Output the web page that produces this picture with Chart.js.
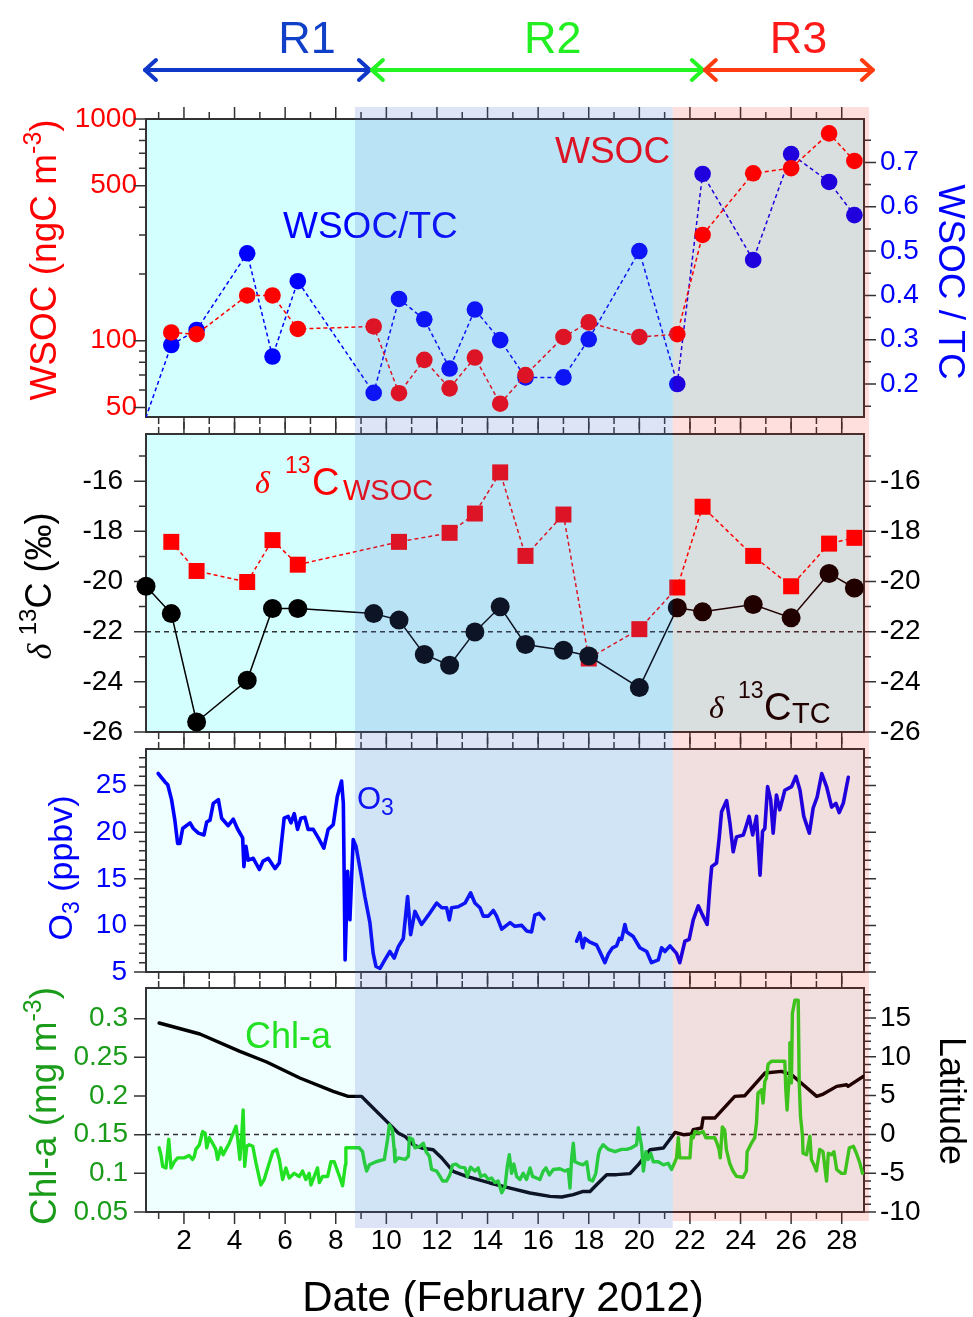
<!DOCTYPE html>
<html><head><meta charset="utf-8">
<script src="https://cdn.jsdelivr.net/npm/chart.js@4"></script>
<style>html,body{margin:0;padding:0;background:#fff;}#wrap{position:relative;width:973px;height:1317px;overflow:hidden;background:#fff;}canvas{position:absolute;left:0;top:0;}</style>
</head><body><div id="wrap"></div>
<script>
const FONT = '"Liberation Sans", Arial, sans-serif';
const SERIF = '"Liberation Serif", "DejaVu Serif", serif';

// ---------- shared x axis (days of February 2012) ----------
const X_MIN = 0.5, X_MAX = 28.88;
const X_LABEL_TICKS = [2,4,6,8,10,12,14,16,18,20,22,24,26,28];
const X_MINOR_TICKS = [1,3,5,7,9,11,13,15,17,19,21,23,25,27];
const REGION_BOUNDS = [8.76, 21.32, 29.08];
const REGION_NAMES = ['R1','R2','R3'];
const REGION_LABEL_X = [6.86, 16.58, 26.29];
const ARROW_SPANS = [[0.46, 9.35], [9.43, 22.51], [22.59, 29.23]];

// ---------- panel 1 : WSOC and WSOC/TC ----------
const WSOC_DAY = [1.5,2.5,4.5,5.5,6.5,9.5,10.5,11.5,12.5,13.5,14.5,15.5,17,18,20,21.5,22.5,24.5,26,27.5,28.5];
const WSOC = [109,107,160,160,113,116,58,82,61,84,52,70,104,121,104,107,300,569,600,861,647];
const WSOCTC_DAY = [0.4,1.5,2.5,4.5,5.5,6.5,9.5,10.5,11.5,12.5,13.5,14.5,15.5,17,18,20,21.5,22.5,24.5,26,27.5,28.5];
const WSOCTC = [0.109,0.288,0.322,0.495,0.262,0.432,0.180,0.392,0.346,0.235,0.368,0.299,0.215,0.215,0.301,0.500,0.200,0.674,0.480,0.719,0.656,0.581];
const WSOC_MIN = 45.3, WSOC_MAX = 1000, RATIO_MIN = 0.1256, RATIO_MAX = 0.798;
const P1_LEFT_MAJOR = [50,100,500,1000];
const P1_LEFT_MINOR = [60,70,80,90,200,300,400,600,700,800,900];
const P1_RIGHT_MAJOR = [0.2,0.3,0.4,0.5,0.6,0.7];
const P1_RIGHT_MINOR = [0.15,0.25,0.35,0.45,0.55,0.65,0.75];

// ---------- panel 2 : delta 13C ----------
const D13C_TC_DAY = [0.5,1.5,2.5,4.5,5.5,6.5,9.5,10.5,11.5,12.5,13.5,14.5,15.5,17,18,20,21.5,22.5,24.5,26,27.5,28.5];
const D13C_TC = [-20.19,-21.28,-25.60,-23.94,-21.08,-21.08,-21.28,-21.54,-22.91,-23.34,-22.01,-21.01,-22.51,-22.74,-22.97,-24.23,-21.05,-21.21,-20.92,-21.45,-19.68,-20.26];
const D13C_WSOC_DAY = [1.5,2.5,4.5,5.5,6.5,10.5,12.5,13.5,14.5,15.5,17,18,20,21.5,22.5,24.5,26,27.5,28.5];
const D13C_WSOC = [-18.42,-19.58,-20.02,-18.35,-19.33,-18.42,-18.06,-17.29,-15.65,-18.98,-17.33,-23.07,-21.90,-20.24,-17.02,-18.98,-20.19,-18.49,-18.26];
const D13C_REF = -22;
const D13C_MIN = -26, D13C_MAX = -14.12;
const P2_MAJOR = [-26,-24,-22,-20,-18,-16];
const P2_MINOR = [-25,-23,-21,-19,-17,-15];

// ---------- panel 3 : O3 ----------
const O3_T = [0.98,1.25,1.36,1.51,1.64,1.75,1.84,1.95,2.24,2.37,2.57,2.79,2.90,3.03,3.16,3.36,3.49,3.75,3.95,4.11,4.32,4.37,4.45,4.54,4.74,4.98,5.13,5.33,5.60,5.77,5.96,6.12,6.23,6.36,6.49,6.62,6.78,6.91,7.11,7.31,7.53,7.70,7.90,8.06,8.17,8.23,8.30,8.37,8.47,8.56,8.69,8.80,9.02,9.15,9.35,9.48,9.59,9.75,9.94,10.14,10.31,10.47,10.67,10.84,10.96,11.13,11.39,11.66,11.99,12.19,12.38,12.49,12.58,12.84,13.11,13.33,13.50,13.70,13.83,14.03,14.23,14.36,14.56,14.89,15.08,15.35,15.55,15.74,15.87,16.04,16.23,16.9,17.52,17.65,17.76,17.85,18.05,18.31,18.47,18.64,18.77,18.94,19.10,19.21,19.30,19.43,19.50,19.76,20.02,20.29,20.48,20.75,20.88,21.01,21.21,21.47,21.60,21.80,21.97,22.13,22.33,22.50,22.68,22.79,22.86,23.05,23.16,23.25,23.45,23.58,23.71,23.84,24.11,24.24,24.34,24.48,24.63,24.77,24.87,24.96,25.07,25.19,25.29,25.42,25.55,25.75,26.02,26.19,26.35,26.50,26.72,26.87,27.03,27.21,27.40,27.60,27.77,27.90,28.06,28.26];
const O3_V = [26.3,25.4,25.1,23.5,21.3,18.8,18.8,20.4,21.0,20.4,19.9,19.7,21.1,21.3,23.1,23.5,21.5,20.7,21.4,20.4,19.4,16.3,18.5,17.0,17.2,16.0,16.9,17.2,16.1,16.7,21.5,21.7,21.0,22.0,20.3,21.5,21.6,20.3,20.3,19.4,18.3,20.3,20.8,23.8,24.9,25.5,23.1,6.3,15.8,10.6,19.2,18.5,15.2,13.1,10.3,7.0,5.6,5.4,6.3,7.2,6.5,7.7,8.6,13.1,9.0,11.5,10.1,11.1,12.4,11.9,11.9,10.6,11.9,12.0,12.4,13.5,12.4,11.9,11.0,11.0,11.6,11.0,9.6,10.3,9.9,10.0,9.4,9.3,11.1,11.3,10.7,null,8.3,9.2,7.6,8.6,8.2,7.9,7.0,6.0,6.9,7.6,7.8,8.6,8.5,10.1,9.3,8.8,7.6,7.2,6.0,6.3,7.6,7.2,7.8,7.0,6.0,8.3,8.5,10.6,12.1,11.1,10.1,14.2,16.3,16.7,19.5,22.2,23.4,21.0,17.9,19.5,19.7,20.8,21.7,19.7,21.7,15.4,20.1,20.4,24.9,23.5,19.9,24.0,22.4,24.5,24.9,26.0,24.5,21.7,19.9,22.6,23.8,26.3,24.9,22.7,23.1,22.1,23.1,25.9];
const O3_MIN = 5, O3_MAX = 28.93;
const P3_MAJOR = [5,10,15,20,25];
const P3_MINOR = [6,7,8,9,11,12,13,14,16,17,18,19,21,22,23,24,26,27,28];

// ---------- panel 4 : Chl-a and latitude ----------
const CHL_T = [1.02,1.09,1.16,1.29,1.40,1.49,1.62,1.75,2.01,2.21,2.34,2.41,2.47,2.61,2.74,2.84,2.90,3.00,3.13,3.26,3.33,3.46,3.55,3.66,3.79,3.95,4.06,4.12,4.21,4.29,4.34,4.40,4.48,4.58,4.72,4.85,5.04,5.17,5.31,5.51,5.66,5.77,5.90,6.03,6.16,6.36,6.56,6.69,6.82,6.95,7.02,7.15,7.28,7.35,7.48,7.68,7.81,7.94,8.07,8.17,8.27,8.38,8.40,8.67,8.93,9.06,9.13,9.22,9.33,9.59,9.92,10.05,10.12,10.24,10.31,10.34,10.47,10.74,10.87,10.91,11.04,11.13,11.33,11.46,11.57,11.70,11.79,11.99,12.12,12.23,12.38,12.51,12.62,12.75,12.91,13.11,13.20,13.33,13.50,13.63,13.73,13.90,14.03,14.16,14.29,14.42,14.56,14.69,14.78,14.86,14.95,15.04,15.15,15.28,15.41,15.54,15.68,15.78,15.93,16.07,16.20,16.31,16.44,16.60,16.86,17.06,17.19,17.26,17.32,17.39,17.45,17.59,17.78,17.92,18.02,18.15,18.28,18.38,18.44,18.57,18.77,19.04,19.30,19.50,19.69,19.89,19.96,20.09,20.16,20.26,20.35,20.45,20.55,20.75,20.95,21.14,21.27,21.41,21.47,21.54,21.60,21.86,22.00,22.06,22.13,22.20,22.39,22.52,22.63,22.85,22.98,23.07,23.15,23.20,23.28,23.37,23.44,23.57,23.70,23.84,24.10,24.23,24.26,24.43,24.56,24.63,24.69,24.83,24.89,24.96,25.02,25.09,25.22,25.48,25.75,25.79,25.84,25.92,25.95,26.01,26.05,26.15,26.28,26.32,26.37,26.45,26.47,26.61,26.74,26.80,26.93,27.00,27.13,27.26,27.40,27.47,27.60,27.69,27.80,27.99,28.13,28.30,28.46,28.58,28.72,28.82];
const CHL_V = [0.133,0.124,0.109,0.107,0.144,0.107,0.115,0.120,0.120,0.123,0.118,0.122,0.131,0.137,0.154,0.152,0.133,0.146,0.139,0.131,0.118,0.133,0.124,0.131,0.139,0.152,0.161,0.146,0.118,0.152,0.182,0.109,0.135,0.137,0.135,0.113,0.085,0.092,0.107,0.128,0.131,0.118,0.092,0.107,0.094,0.100,0.096,0.103,0.092,0.100,0.085,0.096,0.107,0.088,0.096,0.096,0.115,0.115,0.103,0.094,0.084,0.111,0.133,0.133,0.133,0.128,0.115,0.103,0.111,0.115,0.118,0.144,0.163,0.156,0.131,0.115,0.120,0.118,0.122,0.146,0.144,0.133,0.135,0.139,0.128,0.122,0.105,0.103,0.096,0.090,0.090,0.098,0.111,0.112,0.108,0.107,0.096,0.108,0.103,0.107,0.096,0.098,0.092,0.094,0.088,0.090,0.075,0.083,0.109,0.124,0.100,0.112,0.096,0.092,0.100,0.092,0.107,0.096,0.094,0.092,0.103,0.107,0.098,0.105,0.106,0.103,0.105,0.081,0.118,0.139,0.115,0.113,0.111,0.115,0.092,0.090,0.100,0.124,0.131,0.137,0.131,0.128,0.131,0.131,0.133,0.137,0.159,0.135,0.103,0.128,0.118,0.126,0.115,0.115,0.111,0.113,0.105,0.115,0.120,0.146,0.120,0.120,0.120,0.148,0.146,0.154,0.152,0.154,0.146,0.146,0.146,0.139,0.131,0.120,0.160,0.156,0.131,0.113,0.103,0.096,0.095,0.103,0.128,0.139,0.146,0.165,0.204,0.208,0.191,0.219,0.223,0.241,0.245,0.245,0.245,0.208,0.182,0.225,0.269,0.217,0.307,0.324,0.324,0.217,0.174,0.148,0.126,0.124,0.148,0.118,0.109,0.103,0.131,0.128,0.090,0.126,0.124,0.128,0.105,0.100,0.100,0.133,0.135,0.126,0.113,0.100];
const LAT_T = [1.02,2.63,4.21,5.27,6.58,7.90,8.49,9.02,9.22,10.01,10.47,10.74,11.06,11.39,11.85,12.19,12.64,13.17,14.09,14.89,15.68,16.47,16.93,17.39,17.78,18.05,18.31,18.71,19.10,19.63,19.96,20.16,20.42,20.95,21.41,21.74,22.06,22.13,22.46,22.52,22.98,23.77,24.17,24.96,25.62,26.02,27.01,27.27,27.80,28.19,28.25,28.85];
const LAT_V = [14.36,12.94,10.70,9.33,7.27,5.54,4.90,4.90,4.25,1.68,0.18,-0.26,-1.33,-1.75,-1.97,-3.04,-4.77,-5.41,-6.26,-6.91,-7.55,-7.99,-8.07,-7.77,-7.35,-7.35,-6.48,-5.19,-5.19,-5.05,-3.90,-3.04,-1.97,-1.75,0.26,-0.04,0.05,0.60,0.83,2.11,2.11,4.90,4.99,7.91,8.12,7.69,4.90,5.20,6.19,6.40,6.20,7.47];
const LAT_REF = 0;
const CHL_MIN = 0.05, CHL_MAX = 0.3397, LAT_MIN = -10, LAT_MAX = 18.87;
const P4_LEFT_MAJOR = [0.05,0.1,0.15,0.2,0.25,0.3];
const P4_RIGHT_MAJOR = [-10,-5,0,5,10,15];
const P4_RIGHT_MINOR = [-9,-8,-7,-6,-4,-3,-2,-1,1,2,3,4,6,7,8,9,11,12,13,14,16,17,18];

// ---------- styling ----------
const W = 973, H = 1317, LEFT_W = 146, RIGHT_W = 109;
const AXIS = '#333333';
const RED = '#ff0000', BLUE = '#0000ff', GREEN_TXT = '#1a9c1a', GREEN = '#22e022';
const BG_DARK = 'rgb(212,255,255)', BG_LIGHT = 'rgb(239,255,255)';
const PANELS = {p1:[119,417], p2:[434,732], p3:[749,972], p4:[988,1212]};

function pts(xs, ys) { return xs.map((x, i) => ({x: x, y: ys[i]})); }
const fmt = v => String(+(+v).toFixed(2));

function xScale(show) {
  return {
    type: 'linear', position: 'bottom', min: X_MIN, max: X_MAX,
    grid: {display: false, drawTicks: false}, border: {display: false},
    ticks: {display: show, color: '#000', font: {family: FONT, size: 28}, padding: 12, maxRotation: 0, autoSkip: false, callback: fmt},
    afterBuildTicks: s => { s.ticks = X_LABEL_TICKS.map(v => ({value: v})); },
    afterFit: s => { s.height = show ? 60 : 10; }
  };
}
function yScale(pos, type, min, max, labels, color, pad) {
  return {
    type: type, position: pos, min: min, max: max,
    grid: {display: false, drawTicks: false}, border: {display: false},
    ticks: {display: labels.length > 0, color: color, font: {family: FONT, size: 28}, padding: pad, autoSkip: false, callback: fmt},
    afterBuildTicks: s => { s.ticks = labels.map(v => ({value: v})); },
    afterFit: s => { s.width = pos === 'left' ? LEFT_W : RIGHT_W; }
  };
}

function tickMarks(ctx, scale, values, len, side, a) {
  ctx.beginPath();
  values.forEach(v => {
    const p = scale.getPixelForValue(v);
    if (side === 'left') { ctx.moveTo(a.left, p); ctx.lineTo(a.left - len, p); }
    else if (side === 'right') { ctx.moveTo(a.right, p); ctx.lineTo(a.right + len, p); }
    else if (side === 'top') { ctx.moveTo(p, a.top); ctx.lineTo(p, a.top - len); }
    else { ctx.moveTo(p, a.bottom); ctx.lineTo(p, a.bottom + len); }
  });
  ctx.stroke();
}

function rich(ctx, parts, x, y, align) {
  let w = 0;
  parts.forEach(p => { ctx.font = p.f; p.w = ctx.measureText(p.t).width; w += p.w; });
  let cx = align === 'center' ? x - w / 2 : x;
  ctx.textAlign = 'left'; ctx.textBaseline = 'alphabetic';
  parts.forEach(p => { ctx.font = p.f; ctx.fillStyle = p.c; ctx.fillText(p.t, cx, y + (p.dy || 0)); cx += p.w; });
}
function richRot(ctx, parts, cx, cy, ang) {
  ctx.save(); ctx.translate(cx, cy); ctx.rotate(ang); rich(ctx, parts, 0, 0, 'center'); ctx.restore();
}
function txt(ctx, t, x, y, font, color) {
  ctx.font = font; ctx.fillStyle = color; ctx.textAlign = 'left'; ctx.textBaseline = 'alphabetic'; ctx.fillText(t, x, y);
}

function panelPlugin(name, bg, yTicks, texts, after) {
  return {
    id: 'panel_' + name,
    beforeDatasetsDraw(chart) {
      const ctx = chart.ctx, a = chart.chartArea;
      ctx.save();
      ctx.fillStyle = bg; ctx.fillRect(a.left, a.top, a.right - a.left, a.bottom - a.top);
      ctx.strokeStyle = AXIS; ctx.lineWidth = 1.5;
      const xs = chart.scales.x;
      tickMarks(ctx, xs, X_LABEL_TICKS, 12, 'top', a);
      tickMarks(ctx, xs, X_MINOR_TICKS, 7, 'top', a);
      tickMarks(ctx, xs, X_LABEL_TICKS, 12, 'bottom', a);
      tickMarks(ctx, xs, X_MINOR_TICKS, 7, 'bottom', a);
      yTicks.forEach(t => tickMarks(ctx, chart.scales[t[0]], t[1], t[2], t[3], a));
      ctx.lineWidth = 2; ctx.strokeRect(a.left, a.top, a.right - a.left, a.bottom - a.top);
      if (texts) texts(ctx, chart);
      ctx.restore();
    },
    afterDraw(chart) { if (after) { chart.ctx.save(); after(chart.ctx, chart); chart.ctx.restore(); } }
  };
}

function baseOptions(panel, showX, padRight, scales) {
  return {
    responsive: false, animation: false, devicePixelRatio: 1,
    layout: {padding: {top: panel[0], bottom: H - panel[1] - (showX ? 60 : 10), left: 0, right: padRight}},
    plugins: {legend: {display: false}, tooltip: {enabled: false}},
    scales: Object.assign({x: xScale(showX)}, scales)
  };
}

const wrap = document.getElementById('wrap');
function canvas() { const c = document.createElement('canvas'); c.width = W; c.height = H; wrap.appendChild(c); return c.getContext('2d'); }

function drawArrow(ctx, x0, x1, y, color) {
  ctx.strokeStyle = color; ctx.lineWidth = 4; ctx.lineCap = 'round'; ctx.lineJoin = 'round';
  ctx.beginPath(); ctx.moveTo(x0, y); ctx.lineTo(x1, y); ctx.stroke();
  ctx.beginPath(); ctx.moveTo(x0 + 11, y - 10); ctx.lineTo(x0, y); ctx.lineTo(x0 + 11, y + 10); ctx.stroke();
  ctx.beginPath(); ctx.moveTo(x1 - 11, y - 10); ctx.lineTo(x1, y); ctx.lineTo(x1 - 11, y + 10); ctx.stroke();
}
const ARROW_COLORS = ['#1038c8', '#22f522', '#ff3c10'];
const LABEL_COLORS = ['#1040c8', '#22ee22', '#ff1a1a'];

// ---------- Panel 1 ----------
new Chart(canvas(), {
  type: 'line',
  data: {datasets: [
    {data: pts(WSOC_DAY, WSOC), yAxisID: 'y', borderColor: RED, borderWidth: 1.5, borderDash: [4, 3], pointRadius: 8.3, pointBackgroundColor: RED, pointBorderWidth: 0, clip: 0},
    {data: pts(WSOCTC_DAY, WSOCTC), yAxisID: 'y2', borderColor: BLUE, borderWidth: 1.5, borderDash: [4, 3], pointRadius: 8.3, pointBackgroundColor: BLUE, pointBorderWidth: 0, clip: 0}
  ]},
  options: baseOptions(PANELS.p1, false, 0, {
    y: yScale('left', 'logarithmic', WSOC_MIN, WSOC_MAX, P1_LEFT_MAJOR, RED, 9),
    y2: yScale('right', 'linear', RATIO_MIN, RATIO_MAX, P1_RIGHT_MAJOR, BLUE, 16)
  }),
  plugins: [panelPlugin('p1', BG_DARK,
    [['y', P1_LEFT_MAJOR, 12, 'left'], ['y', P1_LEFT_MINOR, 7, 'left'], ['y2', P1_RIGHT_MAJOR, 12, 'right'], ['y2', P1_RIGHT_MINOR, 7, 'right']],
    (ctx) => {
      txt(ctx, 'WSOC/TC', 283, 238, '37px ' + FONT, BLUE);
      txt(ctx, 'WSOC', 555, 163, '37px ' + FONT, RED);
      richRot(ctx, [{t: 'WSOC (ngC m', f: '37px ' + FONT, c: RED}, {t: '-3', f: '25px ' + FONT, c: RED, dy: -15}, {t: ')', f: '37px ' + FONT, c: RED}], 56, 260, -Math.PI / 2);
      richRot(ctx, [{t: 'WSOC / TC', f: '37px ' + FONT, c: BLUE}], 939, 282, Math.PI / 2);
    },
    (ctx, chart) => {
      const xs = chart.scales.x;
      ARROW_SPANS.forEach((s, i) => drawArrow(ctx, xs.getPixelForValue(s[0]), xs.getPixelForValue(s[1]), 70, ARROW_COLORS[i]));
      ctx.font = '45px ' + FONT; ctx.textAlign = 'center'; ctx.textBaseline = 'alphabetic';
      REGION_NAMES.forEach((n, i) => { ctx.fillStyle = LABEL_COLORS[i]; ctx.fillText(n, xs.getPixelForValue(REGION_LABEL_X[i]), 53); });
    })]
});

// ---------- Panel 2 ----------
new Chart(canvas(), {
  type: 'line',
  data: {datasets: [
    {data: pts(D13C_TC_DAY, D13C_TC), yAxisID: 'y', borderColor: '#000', borderWidth: 1.5, pointRadius: 9.5, pointBackgroundColor: '#000', pointBorderWidth: 0, clip: false},
    {data: pts(D13C_WSOC_DAY, D13C_WSOC), yAxisID: 'y', borderColor: RED, borderWidth: 1.5, borderDash: [4, 3], pointStyle: 'rect', pointRadius: 11.3, pointBackgroundColor: RED, pointBorderWidth: 0, clip: false},
    {data: pts([X_MIN, X_MAX], [D13C_REF, D13C_REF]), yAxisID: 'y', borderColor: AXIS, borderWidth: 1.5, borderDash: [5, 4], pointRadius: 0}
  ]},
  options: baseOptions(PANELS.p2, false, 0, {
    y: yScale('left', 'linear', D13C_MIN, D13C_MAX, P2_MAJOR, '#000', 23),
    y2: yScale('right', 'linear', D13C_MIN, D13C_MAX, P2_MAJOR, '#000', 16)
  }),
  plugins: [panelPlugin('p2', BG_DARK,
    [['y', P2_MAJOR, 12, 'left'], ['y', P2_MINOR, 7, 'left'], ['y', P2_MAJOR, 12, 'right'], ['y', P2_MINOR, 7, 'right']],
    (ctx) => {
      txt(ctx, 'δ', 255, 493, 'italic 32px ' + SERIF, RED);
      txt(ctx, '13', 285, 473, '23px ' + FONT, RED);
      txt(ctx, 'C', 312, 495, '38px ' + FONT, RED);
      txt(ctx, 'WSOC', 343, 500, '29px ' + FONT, RED);
      txt(ctx, 'δ', 709, 718, 'italic 32px ' + SERIF, '#000');
      txt(ctx, '13', 738, 698, '23px ' + FONT, '#000');
      txt(ctx, 'C', 764, 720, '38px ' + FONT, '#000');
      txt(ctx, 'TC', 792, 723, '29px ' + FONT, '#000');
      richRot(ctx, [{t: 'δ', f: 'italic 34px ' + SERIF, c: '#000'}, {t: ' ', f: '30px ' + FONT, c: '#000'}, {t: '13', f: '24px ' + FONT, c: '#000', dy: -15}, {t: 'C (‰)', f: '36px ' + FONT, c: '#000'}], 51, 586, -Math.PI / 2);
    })]
});

// ---------- Panel 3 ----------
new Chart(canvas(), {
  type: 'line',
  data: {datasets: [
    {data: pts(O3_T, O3_V), yAxisID: 'y', borderColor: BLUE, borderWidth: 3.6, pointRadius: 0, spanGaps: false, borderJoinStyle: 'round', borderCapStyle: 'round'}
  ]},
  options: baseOptions(PANELS.p3, false, RIGHT_W, {
    y: yScale('left', 'linear', O3_MIN, O3_MAX, P3_MAJOR, BLUE, 19)
  }),
  plugins: [panelPlugin('p3', BG_LIGHT,
    [['y', P3_MAJOR, 12, 'left'], ['y', P3_MINOR, 7, 'left'], ['y', P3_MAJOR, 12, 'right'], ['y', P3_MINOR, 7, 'right']],
    (ctx) => {
      txt(ctx, 'O', 357, 809, '31px ' + FONT, BLUE);
      txt(ctx, '3', 381, 815, '23px ' + FONT, BLUE);
      richRot(ctx, [{t: 'O', f: '34px ' + FONT, c: BLUE}, {t: '3', f: '23px ' + FONT, c: BLUE, dy: 7}, {t: ' (ppbv)', f: '34px ' + FONT, c: BLUE}], 72, 868, -Math.PI / 2);
    })]
});

// ---------- Panel 4 ----------
new Chart(canvas(), {
  type: 'line',
  data: {datasets: [
    {data: pts(CHL_T, CHL_V), yAxisID: 'y', borderColor: GREEN, borderWidth: 3.4, pointRadius: 0, borderJoinStyle: 'round', borderCapStyle: 'round'},
    {data: pts(LAT_T, LAT_V), yAxisID: 'y2', borderColor: '#000', borderWidth: 3.4, pointRadius: 0, borderJoinStyle: 'round', borderCapStyle: 'round'},
    {data: pts([X_MIN, X_MAX], [LAT_REF, LAT_REF]), yAxisID: 'y2', borderColor: AXIS, borderWidth: 1.5, borderDash: [5, 4], pointRadius: 0}
  ]},
  options: baseOptions(PANELS.p4, true, 0, {
    y: yScale('left', 'linear', CHL_MIN, CHL_MAX, P4_LEFT_MAJOR, GREEN_TXT, 18),
    y2: yScale('right', 'linear', LAT_MIN, LAT_MAX, P4_RIGHT_MAJOR, '#000', 16)
  }),
  plugins: [panelPlugin('p4', BG_LIGHT,
    [['y', P4_LEFT_MAJOR, 12, 'left'], ['y2', P4_RIGHT_MAJOR, 12, 'right'], ['y2', P4_RIGHT_MINOR, 7, 'right']],
    (ctx) => {
      txt(ctx, 'Chl-a', 245, 1048, '36px ' + FONT, GREEN);
      richRot(ctx, [{t: 'Chl-a (mg m', f: '37px ' + FONT, c: GREEN_TXT}, {t: '-3', f: '25px ' + FONT, c: GREEN_TXT, dy: -15}, {t: ')', f: '37px ' + FONT, c: GREEN_TXT}], 56, 1106, -Math.PI / 2);
      richRot(ctx, [{t: 'Latitude', f: '36px ' + FONT, c: '#000'}], 940, 1101, Math.PI / 2);
      ctx.font = '42px ' + FONT; ctx.fillStyle = '#000'; ctx.textAlign = 'center'; ctx.textBaseline = 'alphabetic';
      ctx.fillText('Date (February 2012)', 503, 1311);
    },
    (ctx, chart) => {
      // translucent region overlays over the whole figure
      const xs = chart.scales.x;
      const b0 = xs.getPixelForValue(REGION_BOUNDS[0]), b1 = xs.getPixelForValue(REGION_BOUNDS[1]), b2 = xs.getPixelForValue(REGION_BOUNDS[2]);
      ctx.fillStyle = 'rgba(72,110,201,0.186)'; ctx.fillRect(b0, 107, b1 - b0, 1228 - 107);
      ctx.fillStyle = 'rgba(255,0,0,0.13)'; ctx.fillRect(b1, 107, b2 - b1, 1221 - 107);
    })]
});
</script></body></html>
